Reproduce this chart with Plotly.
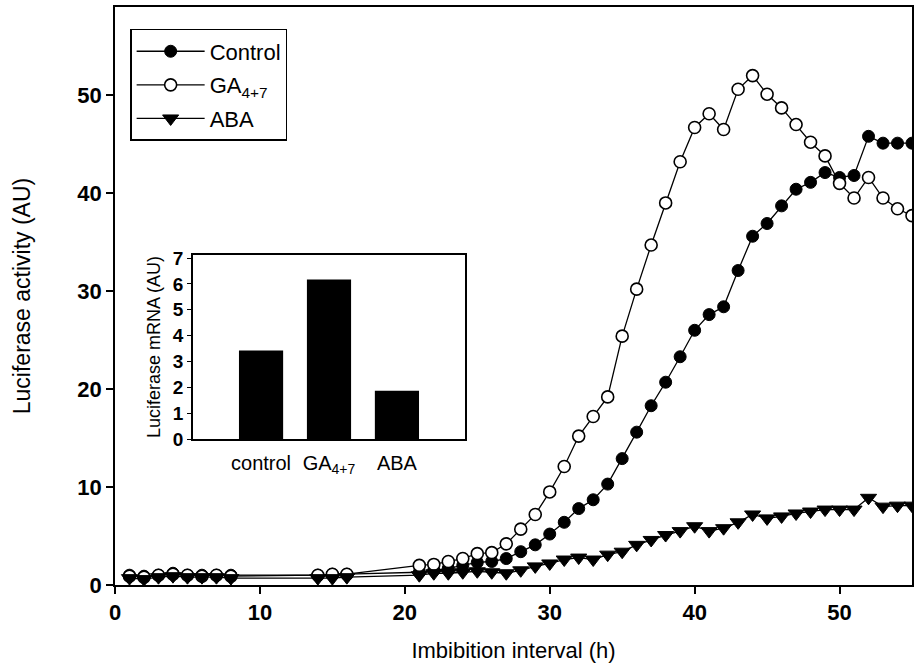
import plotly.graph_objects as go

hours = [1, 2, 3, 4, 5, 6, 7, 8, 14, 15, 16] + list(range(21, 56))

control = [1.0, 0.9, 1.0, 1.2, 1.0, 1.0, 1.0, 1.0,
           1.0, 1.1, 1.1,
           1.3, 1.5, 1.7, 2.0, 2.3, 2.4, 2.7, 3.4, 4.1, 5.2,
           6.4, 7.8, 8.7, 10.3, 12.9, 15.6, 18.3, 20.7, 23.3, 26.0,
           27.6, 28.4, 32.1, 35.6, 36.9, 38.7, 40.4, 41.1, 42.1, 41.6,
           41.8, 45.8, 45.1, 45.1, 45.1]

ga = [0.9, 0.8, 1.0, 1.1, 1.0, 0.9, 1.0, 0.9,
      1.0, 1.1, 1.1,
      2.0, 2.1, 2.4, 2.7, 3.2, 3.3, 4.2, 5.7, 7.2, 9.5,
      12.1, 15.2, 17.2, 19.2, 25.4, 30.2, 34.7, 39.0, 43.2, 46.7,
      48.1, 46.5, 50.6, 52.0, 50.1, 48.7, 47.0, 45.2, 43.8, 41.0,
      39.5, 41.6, 39.5, 38.4, 37.7]

aba = [0.7, 0.6, 0.8, 0.9, 0.8, 0.8, 0.8, 0.7,
       0.7, 0.7, 0.8,
       1.0, 1.2, 1.2, 1.3, 1.4, 1.3, 1.2, 1.5, 1.9, 2.2,
       2.6, 2.8, 2.6, 3.1, 3.4, 4.1, 4.6, 5.1, 5.5, 6.0,
       5.5, 5.8, 6.4, 7.2, 6.8, 7.0, 7.3, 7.5, 7.7, 7.7,
       7.7, 8.9, 8.0, 8.1, 8.1]

inset_categories = ["control", "GA<sub>4+7</sub>", "ABA"]
inset_values = [3.42, 6.17, 1.87]

x_ticks = [0, 10, 20, 30, 40, 50]
y_ticks = [0, 10, 20, 30, 40, 50]
inset_y_ticks = [0, 1, 2, 3, 4, 5, 6, 7]

FONT = "Liberation Sans, Arial, sans-serif"
LW = 1.3

fig = go.Figure()

fig.add_trace(go.Scatter(
    x=hours, y=control, name="Control", mode="lines+markers",
    legendgroup="c",
    line=dict(color="black", width=LW),
    marker=dict(symbol="circle", size=12, color="black",
                line=dict(color="black", width=1)),
))
fig.add_trace(go.Scatter(
    x=hours, y=ga, name="GA<sub>4+7</sub>", mode="lines+markers",
    legendgroup="g",
    line=dict(color="black", width=LW),
    marker=dict(symbol="circle", size=12, color="white",
                line=dict(color="black", width=1.6)),
))
fig.add_trace(go.Scatter(
    x=hours, y=aba, name="ABA", mode="lines+markers",
    legendgroup="a",
    line=dict(color="black", width=LW),
    marker=dict(symbol="triangle-down", size=14, color="black",
                line=dict(color="black", width=1)),
))

fig.add_trace(go.Bar(
    x=inset_categories, y=inset_values, xaxis="x2", yaxis="y2",
    marker=dict(color="black", line=dict(width=0)),
    width=0.65, showlegend=False,
))

fig.update_layout(
    width=916, height=668,
    margin=dict(l=115, r=4, t=7, b=83, autoexpand=False),
    paper_bgcolor="white", plot_bgcolor="white",
    font=dict(family=FONT, color="black"),
    showlegend=True,
    legend=dict(
        x=0.019, y=0.962, xanchor="left", yanchor="top",
        bordercolor="black", borderwidth=1.5, bgcolor="white",
        font=dict(size=22, family=FONT),
        itemwidth=68,
        tracegroupgap=2,
    ),
    xaxis=dict(
        range=[0, 55], tickvals=x_ticks, automargin=False,
        showline=True, linecolor="black", linewidth=1.8, mirror=True,
        ticks="outside", ticklen=7, tickwidth=1.5, tickcolor="black",
        showgrid=False, zeroline=False,
        tickfont=dict(size=22, family=FONT, weight="bold"),
        title=dict(text="Imbibition interval (h)", font=dict(size=22, family=FONT), standoff=18),
    ),
    yaxis=dict(
        range=[0, 59], tickvals=y_ticks, automargin=False,
        showline=True, linecolor="black", linewidth=1.8, mirror=True,
        ticks="outside", ticklen=7, tickwidth=1.5, tickcolor="black",
        showgrid=False, zeroline=False,
        tickfont=dict(size=22, family=FONT, weight="bold"),
        title=dict(text="Luciferase activity (AU)", font=dict(size=23, family=FONT), standoff=40),
    ),
    xaxis2=dict(
        domain=[0.098, 0.439], anchor="y2", type="category",
        range=[-1, 3], automargin=False,
        showline=True, linecolor="black", linewidth=1.8, mirror=True,
        ticks="", showgrid=False, zeroline=False,
        ticklabelstandoff=5,
        tickfont=dict(size=20, family=FONT),
    ),
    yaxis2=dict(
        domain=[0.2526, 0.571], anchor="x2", automargin=False,
        range=[0, 7.12], tickvals=inset_y_ticks,
        showline=True, linecolor="black", linewidth=1.8, mirror=True,
        ticks="outside", ticklen=4, tickwidth=1.3, tickcolor="black",
        showgrid=False, zeroline=False,
        tickfont=dict(size=19, family=FONT, weight="bold"),
        title=dict(text="Luciferase mRNA (AU)", font=dict(size=18, family=FONT), standoff=8),
    ),
)

fig.write_html("out.html", config={"displayModeBar": False},
               post_script="document.body.style.margin='0px';")
